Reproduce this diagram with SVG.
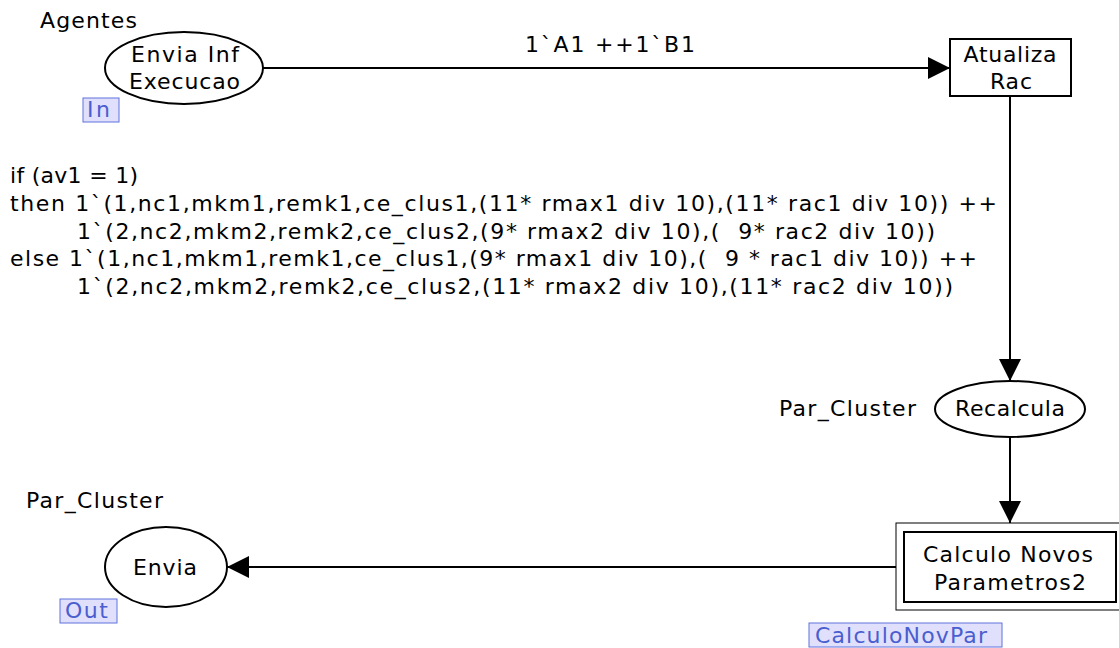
<svg xmlns="http://www.w3.org/2000/svg" width="1119" height="648" viewBox="0 0 1119 648">
<style>
.c{text-anchor:middle}
.shape{fill:#fff;stroke:#000;stroke-width:2}
.tag rect{fill:#e0e0fc;stroke:#6072dc;stroke-width:1}
.tag text{fill:#4a5ecf}
.arc{stroke:#000;stroke-width:2;fill:none;marker-end:url(#ah)}
</style>
<defs>
<marker id="ah" viewBox="0 0 22 22" refX="22" refY="11" markerWidth="22" markerHeight="22" markerUnits="userSpaceOnUse" orient="auto">
<path d="M0,0 L22,11 L0,22 Z" fill="#000"/>
</marker>
</defs>
<rect width="1119" height="648" fill="#fff"/>
<g font-family="'DejaVu Sans', Verdana, sans-serif" font-size="22" fill="#000">
<g id="connectors">
<line class="arc" x1="263" y1="68" x2="950" y2="68"/>
<text class="c" x="610" y="52" textLength="170">1`A1 ++1`B1</text>
<line class="arc" x1="1010" y1="96" x2="1010" y2="381"/>
<g id="code">
<text x="10" y="183" textLength="128" xml:space="preserve">if (av1 = 1)</text>
<text x="10" y="211" textLength="987" xml:space="preserve">then 1`(1,nc1,mkm1,remk1,ce_clus1,(11* rmax1 div 10),(11* rac1 div 10)) ++</text>
<text x="77" y="239" textLength="858" xml:space="preserve">1`(2,nc2,mkm2,remk2,ce_clus2,(9* rmax2 div 10),(  9* rac2 div 10))</text>
<text x="10" y="266" textLength="967" xml:space="preserve">else 1`(1,nc1,mkm1,remk1,ce_clus1,(9* rmax1 div 10),(  9 * rac1 div 10)) ++</text>
<text x="77" y="294" textLength="876" xml:space="preserve">1`(2,nc2,mkm2,remk2,ce_clus2,(11* rmax2 div 10),(11* rac2 div 10))</text>
</g>
<line class="arc" x1="1010" y1="437" x2="1010" y2="523"/>
<line class="arc" x1="896" y1="567" x2="227" y2="567"/>
</g>
<g id="place-envia-inf">
<text x="40" y="28" textLength="97">Agentes</text>
<ellipse class="shape" cx="184" cy="68" rx="79" ry="36"/>
<text class="c" x="185" y="62" textLength="108">Envia Inf</text>
<text class="c" x="184.5" y="89" textLength="111">Execucao</text>
<g class="tag"><rect x="83" y="98" width="36" height="24"/><text x="87" y="117" textLength="23">In</text></g>
</g>
<g id="trans-atualiza">
<rect class="shape" x="950" y="39" width="121" height="57"/>
<text class="c" x="1010" y="62" textLength="93">Atualiza</text>
<text class="c" x="1011" y="89" textLength="42">Rac</text>
</g>
<g id="place-recalcula">
<text x="779" y="416" textLength="137">Par_Cluster</text>
<ellipse class="shape" cx="1010" cy="409" rx="75" ry="28"/>
<text class="c" x="1010" y="416" textLength="110">Recalcula</text>
</g>
<g id="trans-calculo">
<rect fill="#fff" stroke="#000" stroke-width="1" x="896" y="523" width="226" height="87"/>
<rect class="shape" x="904" y="532" width="212" height="70"/>
<text class="c" x="1008" y="562" textLength="170">Calculo Novos</text>
<text class="c" x="1010" y="590" textLength="152">Parametros2</text>
<g class="tag"><rect x="809" y="623" width="193" height="24"/><text x="815" y="643" textLength="172">CalculoNovPar</text></g>
</g>
<g id="place-envia">
<text x="26" y="508" textLength="137">Par_Cluster</text>
<ellipse class="shape" cx="166" cy="567" rx="61" ry="40"/>
<text class="c" x="165" y="575" textLength="64">Envia</text>
<g class="tag"><rect x="60" y="599" width="57" height="24"/><text x="65" y="618" textLength="43">Out</text></g>
</g>
</g>
</svg>
